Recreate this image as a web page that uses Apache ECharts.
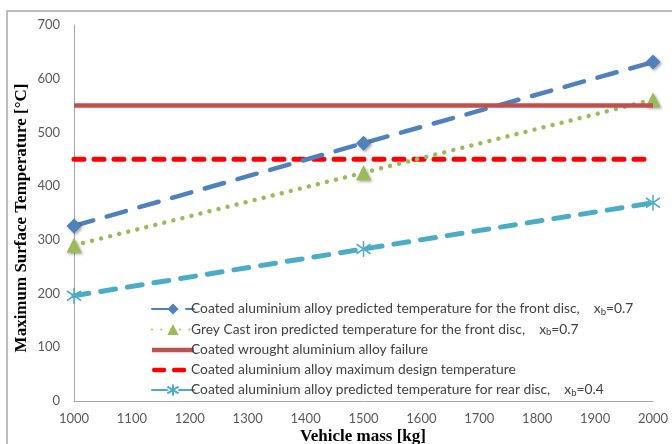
<!DOCTYPE html>
<html>
<head>
<meta charset="utf-8">
<script src="https://cdn.jsdelivr.net/npm/echarts@6/dist/echarts.min.js"></script>
<style>
html,body{margin:0;padding:0;background:#fff;}
#c{width:672px;height:444px;}
</style>
</head>
<body>
<div id="c"></div>
<script>
// ---- data ----
const massKg = [1000, 1500, 2000];
const frontAluTemp = [326, 480, 631];
const frontIronTemp = [290, 425, 561];
const rearAluTemp = [196, 283, 369];
const limitMass = [1000, 2000];
const failureTemp = [550, 550];
const designTemp = [450, 450];
const seriesNames = [
  'Coated aluminium alloy predicted temperature for the front disc,',
  'Grey Cast iron predicted temperature for the front disc,',
  'Coated wrought aluminium alloy failure',
  'Coated aluminium alloy maximum design temperature',
  'Coated aluminium alloy predicted temperature for rear disc,'
];
const xbValues = ['0.7', '0.7', null, null, '0.4'];
const yTitle = 'Maximum Surface Temperature [°C]';
const xTitle = 'Vehicle mass [kg]';

const pair = (xs, ys) => xs.map((x, i) => [x, ys[i]]);
const font = 'Lato, "Open Sans", sans-serif';
const shadow = {shadowBlur: 3, shadowColor: 'rgba(0,0,0,0.35)', shadowOffsetX: 1.5, shadowOffsetY: 1.5};
const asterisk = 'path://M10,0 L10,20 M2,4 L18,16 M2,16 L18,4';
const solidIcon = 'path://M0,0 L42,0 L42,4.5 L0,4.5 Z';
const dashIcon = 'path://M2,0 L12,0 Q14.3,0 14.3,2.3 Q14.3,4.6 12,4.6 L2,4.6 Q0,4.6 0,2.3 Q0,0 2,0 Z ' +
  'M22,0 L32,0 Q34.3,0 34.3,2.3 Q34.3,4.6 32,4.6 L22,4.6 Q20,4.6 20,2.3 Q20,0 22,0 Z ' +
  'M41.9,2.2 L42,2.2 L42,2.4 Z';

const chart = echarts.init(document.getElementById('c'), null, {renderer: 'canvas'});
chart.setOption({
  animation: false,
  backgroundColor: '#fff',
  grid: {left: 74, right: 19, top: 25, bottom: 43, containLabel: false},
  xAxis: {
    type: 'value', min: 1000, max: 2000, interval: 100,
    axisLine: {show: true, lineStyle: {color: '#a6a6a6', width: 1}},
    axisTick: {show: false},
    splitLine: {show: false},
    axisLabel: {color: '#595959', fontFamily: font, fontSize: 13, margin: 11,
                formatter: v => String(v)}
  },
  yAxis: {
    type: 'value', min: 0, max: 700, interval: 100,
    axisLine: {show: true, lineStyle: {color: '#a6a6a6', width: 1}},
    axisTick: {show: false},
    splitLine: {show: false},
    axisLabel: {color: '#595959', fontFamily: font, fontSize: 13, margin: 14,
                formatter: v => String(v)}
  },
  legend: {
    left: 146, top: 297, orient: 'vertical',
    itemWidth: 42, itemHeight: 14, itemGap: 6,
    data: [
      {name: seriesNames[0]},
      {name: seriesNames[1]},
      {name: seriesNames[2], icon: solidIcon},
      {name: seriesNames[3], icon: dashIcon},
      {name: seriesNames[4]}
    ],
    formatter: function (name) {
      const i = seriesNames.indexOf(name);
      if (xbValues[i]) return name + '    x{s|b}=' + xbValues[i];
      return name;
    },
    textStyle: {
      fontFamily: font, fontSize: 13.8, color: '#404040', padding: [0, 0, 0, -8],
      rich: {s: {fontFamily: font, fontSize: 9.5, color: '#404040', verticalAlign: 'bottom', padding: [5, 0, 0, 0]}}
    }
  },
  graphic: [
    {type: 'rect', shape: {x: 7, y: 11, width: 700, height: 500},
     style: {fill: 'none', stroke: '#a6a6a6', lineWidth: 1.5}, z: -10, silent: true},
    {type: 'text', x: 22, y: 218, rotation: Math.PI / 2,
     style: {text: yTitle, font: 'bold 17px "Liberation Serif", "Times New Roman", serif',
             fill: '#000', align: 'center', verticalAlign: 'middle'}},
    {type: 'text', x: 363, y: 437,
     style: {text: xTitle, font: 'bold 17px "Liberation Serif", "Times New Roman", serif',
             fill: '#000', align: 'center', verticalAlign: 'middle'}}
  ],
  series: [
    {
      name: seriesNames[0], type: 'line', data: pair(massKg, frontAluTemp), clip: false,
      symbol: 'diamond', symbolSize: 15, z: 5,
      lineStyle: {color: '#4F81BD', width: 4.5, type: [20, 14], cap: 'round'},
      itemStyle: Object.assign({color: '#4F81BD'}, shadow)
    },
    {
      name: seriesNames[1], type: 'line', data: pair(massKg, frontIronTemp), clip: false,
      symbol: 'triangle', symbolSize: [15, 15], z: 4,
      lineStyle: {color: '#9BBB59', width: 4.5, type: [0.01, 9.3], cap: 'round'},
      itemStyle: Object.assign({color: '#9BBB59'}, shadow)
    },
    {
      name: seriesNames[2], type: 'line', data: pair(limitMass, failureTemp), clip: false,
      symbol: 'none', z: 6,
      lineStyle: {color: '#C0504D', width: 4.5, type: 'solid'},
      itemStyle: {color: '#C0504D'}
    },
    {
      name: seriesNames[3], type: 'line', data: pair(limitMass, designTemp), clip: false,
      symbol: 'none', z: 3,
      lineStyle: {color: '#FF0000', width: 5, type: [10, 10], cap: 'round'},
      itemStyle: {color: '#FF0000'}
    },
    {
      name: seriesNames[4], type: 'line', data: pair(massKg, rearAluTemp), clip: false,
      symbol: asterisk, symbolSize: [14, 16], z: 5,
      lineStyle: {color: '#4BACC6', width: 5, type: [15, 12], cap: 'round'},
      itemStyle: {color: '#4BACC6', borderColor: '#4BACC6', borderWidth: 1.6}
    }
  ]
});
</script>
</body>
</html>
